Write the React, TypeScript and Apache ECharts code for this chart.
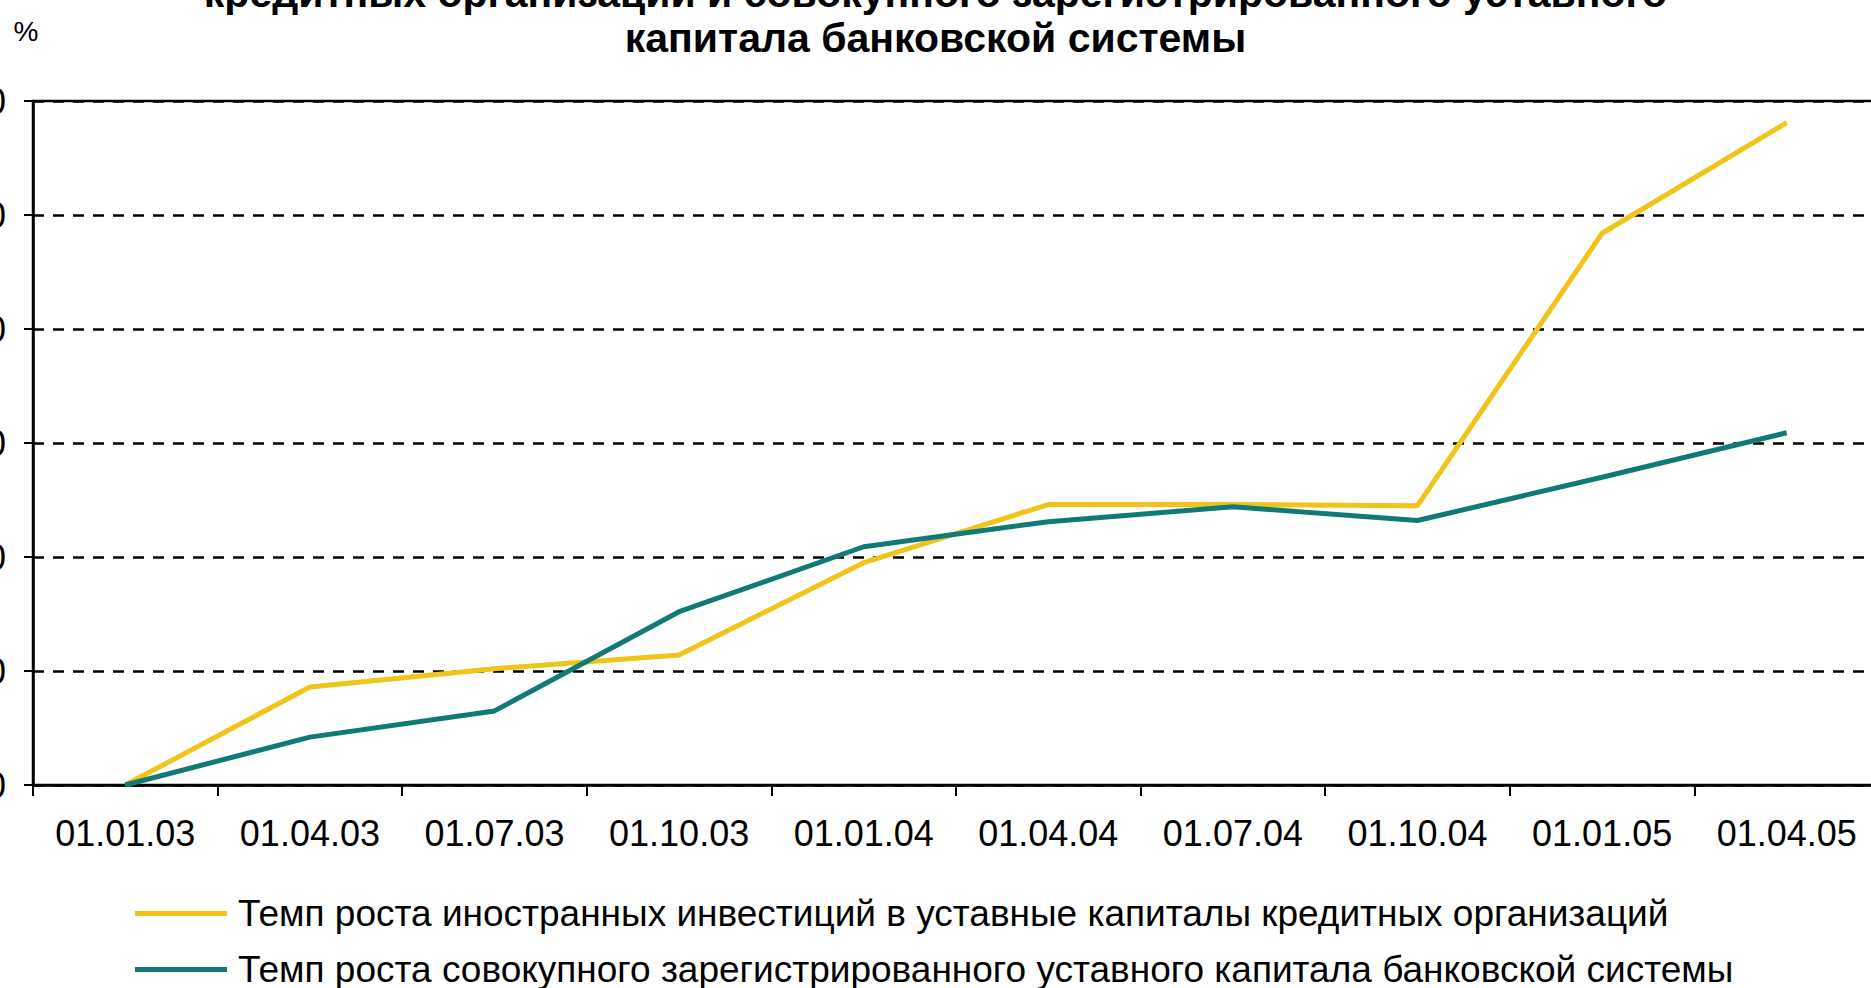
import React, { useEffect, useRef } from "react";
import * as echarts from "echarts";

const categories = [
  "01.01.03", "01.04.03", "01.07.03", "01.10.03", "01.01.04",
  "01.04.04", "01.07.04", "01.10.04", "01.01.05", "01.04.05",
];
const foreignInvestGrowth = [100, 117.2, 120.4, 122.8, 139, 149.2, 149.2, 149, 196.8, 216.2];
const totalCapitalGrowth = [100, 108.4, 113, 130.4, 141.8, 146.2, 148.8, 146.4, 154, 161.8];
const legendNames = [
  "Темп роста иностранных инвестиций в уставные капиталы кредитных организаций",
  "Темп роста совокупного зарегистрированного уставного капитала банковской системы",
];
const titleLines = [
  "кредитных организаций и совокупного зарегистрированного уставного",
  "капитала банковской системы",
];
const unitLabel = "%";
const yMin = 100;
const yMax = 220;
const yStep = 20;

const FONT = "'Liberation Sans', Arial, sans-serif";

const legendText = {
  fontFamily: FONT,
  fontSize: 37,
  lineHeight: 36,
  color: "#000",
  padding: [0, 0, 0, 6],
};

export default function App() {
  const ref = useRef<HTMLDivElement>(null);
  useEffect(() => {
    const chart = echarts.init(ref.current!, null, { renderer: "svg" });
    chart.setOption({
      animation: false,
      backgroundColor: "#ffffff",
      title: {
        text: titleLines.join("\n"),
        left: "center",
        top: -35,
        textStyle: {
          fontFamily: FONT,
          fontWeight: "bold",
          fontSize: 41,
          lineHeight: 45,
          color: "#000",
        },
      },
      graphic: [
        {
          type: "text",
          x: 26,
          y: 31,
          style: {
            text: unitLabel,
            fontFamily: FONT,
            fontSize: 28,
            fill: "#000",
            align: "center",
            verticalAlign: "middle",
          },
        },
      ],
      legend: [
        {
          data: [legendNames[0]],
          left: 135,
          top: 895,
          padding: 0,
          icon: "rect",
          itemWidth: 92,
          itemHeight: 5,
          textStyle: legendText,
        },
        {
          data: [legendNames[1]],
          left: 135,
          top: 951,
          padding: 0,
          icon: "rect",
          itemWidth: 92,
          itemHeight: 5,
          textStyle: legendText,
        },
      ],
      grid: {
        left: 33,
        top: 101,
        right: -8,
        bottom: 203,
        containLabel: false,
        outerBoundsMode: "none",
        show: true,
        borderColor: "#000",
        borderWidth: 2.5,
        backgroundColor: "transparent",
      },
      xAxis: {
        type: "category",
        data: categories,
        boundaryGap: true,
        axisLine: { show: true, lineStyle: { color: "#000", width: 2.5 } },
        axisTick: {
          show: true,
          alignWithLabel: false,
          interval: 0,
          length: 11,
          lineStyle: { color: "#000", width: 2 },
        },
        axisLabel: { interval: 0, margin: 30, fontFamily: FONT, fontSize: 36, color: "#000" },
        splitLine: { show: false },
      },
      yAxis: {
        type: "value",
        min: yMin,
        max: yMax,
        interval: yStep,
        axisLine: { show: true, lineStyle: { color: "#000", width: 2.5 } },
        axisTick: { show: true, length: 9, lineStyle: { color: "#000", width: 2 } },
        axisLabel: { margin: 27, fontFamily: FONT, fontSize: 36, color: "#000" },
        splitLine: { show: true, lineStyle: { color: "#000", width: 2.5, type: [11, 9] } },
      },
      series: [
        {
          name: legendNames[0],
          type: "line",
          data: foreignInvestGrowth,
          symbol: "none",
          color: "#F0C419",
          lineStyle: { color: "#F0C419", width: 5 },
        },
        {
          name: legendNames[1],
          type: "line",
          data: totalCapitalGrowth,
          symbol: "none",
          color: "#117A76",
          lineStyle: { color: "#117A76", width: 5 },
        },
      ],
    });
    return () => chart.dispose();
  }, []);
  return (
    <div
      ref={ref}
      style={{ position: "absolute", left: 0, top: 0, width: 1871, height: 988, background: "#fff" }}
    />
  );
}
